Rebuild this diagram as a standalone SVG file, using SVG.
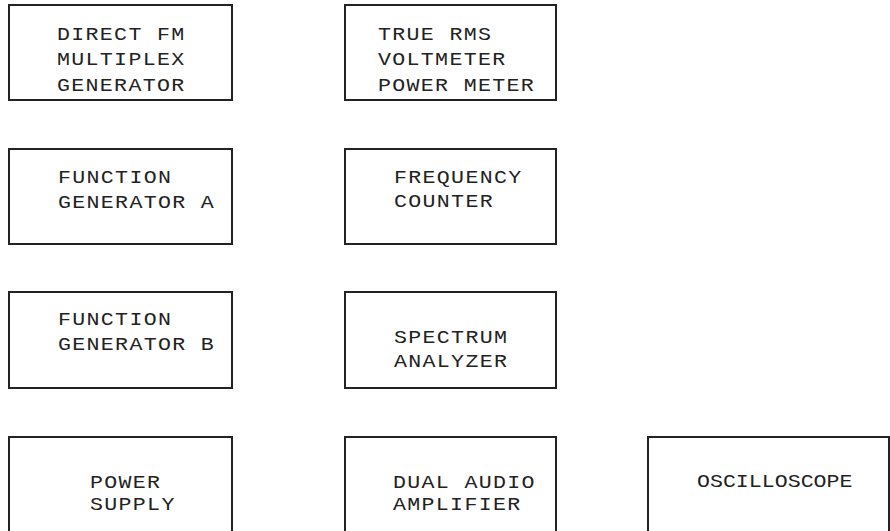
<svg xmlns="http://www.w3.org/2000/svg" width="890" height="531" viewBox="0 0 890 531">
<style>
.box{fill:#fff;stroke:#222;stroke-width:2}
.t{font-family:"Liberation Mono","Courier New",monospace;font-size:18px;fill:#222;letter-spacing:1.1px}
.s{letter-spacing:0px}
</style>
<rect width="890" height="531" fill="#fff"/>
<g id="direct-fm">
<rect class="box" x="9" y="5" width="223" height="95"/>
<text class="t" transform="translate(57 39.5) scale(1.2 1)">DIRECT FM</text>
<text class="t" transform="translate(57 65) scale(1.2 1)">MULTIPLEX</text>
<text class="t" transform="translate(57 90.5) scale(1.2 1)">GENERATOR</text>
</g>
<g id="true-rms">
<rect class="box" x="345" y="5" width="211" height="95"/>
<text class="t" transform="translate(378 39.5) scale(1.2 1)">TRUE RMS</text>
<text class="t" transform="translate(378 65) scale(1.2 1)">VOLTMETER</text>
<text class="t" transform="translate(378 90.5) scale(1.2 1)">POWER METER</text>
</g>
<g id="function-a">
<rect class="box" x="9" y="149" width="223" height="95"/>
<text class="t" transform="translate(58 183) scale(1.2 1)">FUNCTION</text>
<text class="t" transform="translate(58 208) scale(1.2 1)">GENERATOR A</text>
</g>
<g id="frequency-counter">
<rect class="box" x="345" y="149" width="211" height="95"/>
<text class="t" transform="translate(394 183) scale(1.2 1)">FREQUENCY</text>
<text class="t" transform="translate(394 207) scale(1.2 1)">COUNTER</text>
</g>
<g id="function-b">
<rect class="box" x="9" y="292" width="223" height="96"/>
<text class="t" transform="translate(58 325) scale(1.2 1)">FUNCTION</text>
<text class="t" transform="translate(58 350) scale(1.2 1)">GENERATOR B</text>
</g>
<g id="spectrum-analyzer">
<rect class="box" x="345" y="292" width="211" height="96"/>
<text class="t" transform="translate(394 343) scale(1.2 1)">SPECTRUM</text>
<text class="t" transform="translate(394 367) scale(1.2 1)">ANALYZER</text>
</g>
<g id="power-supply">
<rect class="box" x="9" y="437" width="223" height="110"/>
<text class="t" transform="translate(90 488) scale(1.2 1)">POWER</text>
<text class="t" transform="translate(90 510) scale(1.2 1)">SUPPLY</text>
</g>
<g id="dual-audio">
<rect class="box" x="345" y="437" width="211" height="110"/>
<text class="t" transform="translate(393 488) scale(1.2 1)">DUAL AUDIO</text>
<text class="t" transform="translate(393 510) scale(1.2 1)">AMPLIFIER</text>
</g>
<g id="oscilloscope">
<rect class="box" x="648" y="437" width="241" height="110"/>
<text class="t s" transform="translate(697 487) scale(1.2 1)">OSCILLOSCOPE</text>
</g>
<g id="connectors"></g>
</svg>
